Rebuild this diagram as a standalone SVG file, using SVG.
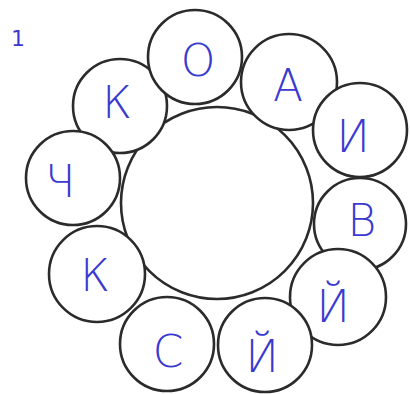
<svg xmlns="http://www.w3.org/2000/svg" width="410" height="394" viewBox="0 0 410 394">
<style>
.c{fill:#fff;stroke:#2b2b2b;stroke-width:2.6}
.t{font-family:"DejaVu Sans","Liberation Sans",sans-serif;font-weight:200;font-size:44px;fill:#3a3ad0;text-anchor:middle}
</style>
<rect width="410" height="394" fill="#fff"/>
<text x="18" y="46" class="t" style="font-size:22px;font-weight:400">1</text>
<g id="center"><circle class="c" cx="217" cy="203" r="96"/></g>
<g id="n-k1"><circle class="c" cx="120" cy="106" r="47"/><text class="t" x="117" y="118">К</text></g>
<g id="n-o"><circle class="c" cx="195" cy="57" r="47"/><text class="t" x="198" y="76">О</text></g>
<g id="n-a"><circle class="c" cx="289" cy="82" r="48"/><text class="t" x="288" y="101">А</text></g>
<g id="n-i"><circle class="c" cx="360" cy="130" r="47"/><text class="t" x="353" y="152">И</text></g>
<g id="n-v"><circle class="c" cx="360" cy="224" r="46"/><text class="t" x="362" y="236">В</text></g>
<g id="n-y1"><circle class="c" cx="338" cy="297" r="48"/><text class="t" x="333" y="322">Й</text></g>
<g id="n-y2"><circle class="c" cx="265" cy="345" r="47"/><text class="t" x="262" y="372">Й</text></g>
<g id="n-s"><circle class="c" cx="167" cy="344" r="47"/><text class="t" x="168" y="367">С</text></g>
<g id="n-k2"><circle class="c" cx="97" cy="274" r="48"/><text class="t" x="95" y="291">К</text></g>
<g id="n-ch"><circle class="c" cx="73" cy="178" r="47"/><text class="t" x="60" y="197">Ч</text></g>
</svg>
